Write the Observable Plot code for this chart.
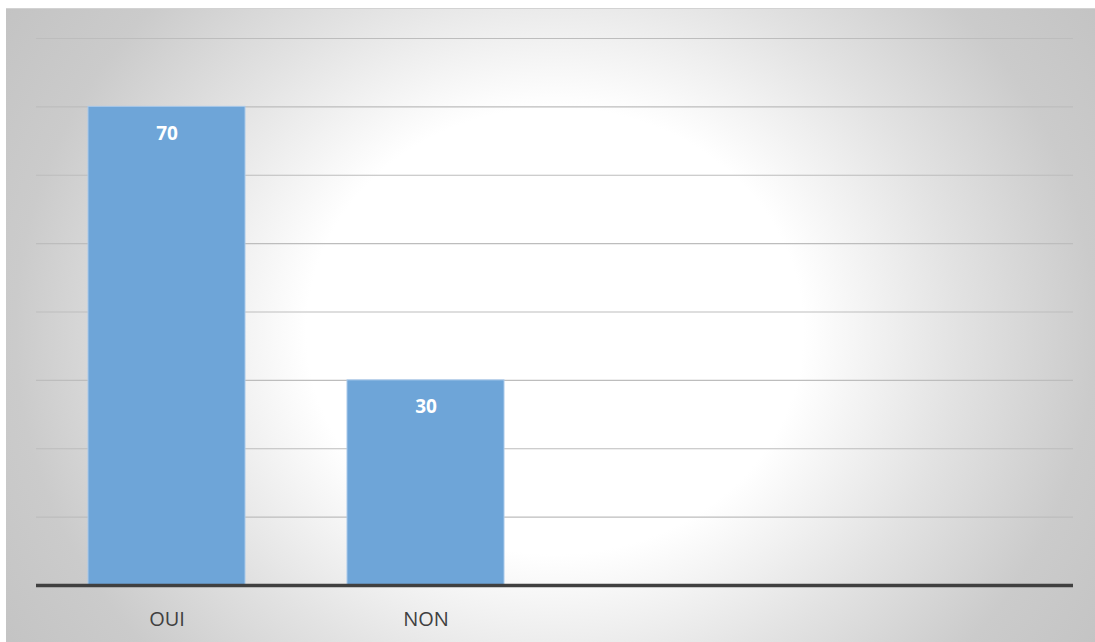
<!DOCTYPE html>
<html>
<head>
<meta charset="utf-8">
<script src="https://cdn.jsdelivr.net/npm/d3@7"></script>
<script src="https://cdn.jsdelivr.net/npm/@observablehq/plot@0.6"></script>
<style>
  html, body { margin: 0; padding: 0; background: #ffffff; }
  #wrap { position: relative; width: 1095px; height: 642px; overflow: hidden; background: #ffffff; }
  #bg {
    position: absolute; left: 6px; top: 8px; right: 0; bottom: 0;
    border-top: 1px solid #d2d2d2;
    background: radial-gradient(540px 485px at 549px 322px, #ffffff 0%, #ffffff 46%, #e2e2e2 75%, #cbcbcb 100%, #c2c2c2 125%);
  }
  #chart { position: absolute; left: 0; top: 0; }
  #chart svg { background: transparent; }
</style>
</head>
<body>
<div id="wrap"><div id="bg"></div><div id="chart"></div></div>
<script>
const categories = ["OUI", "NON", " ", "  "];
const values = [70, 30, null, null];
const tickLabels = ["OUI", "NON", "", ""];
const gridValues = [10, 20, 30, 40, 50, 60, 70, 80];

const data = categories.map((c, i) => ({category: c, value: values[i], label: tickLabels[i]}));
const bars = data.filter(d => d.value != null);

const chart = Plot.plot({
  width: 1095,
  height: 642,
  marginLeft: 36,
  marginRight: 22,
  marginTop: 38,
  marginBottom: 57,
  style: {background: "transparent", fontFamily: "'Open Sans', sans-serif", overflow: "visible"},
  x: {domain: categories, paddingInner: 0.395, paddingOuter: 0.1975, label: null},
  y: {domain: [0, 80], axis: null},
  marks: [
    Plot.ruleY(gridValues, {stroke: "#bdbdbd", strokeWidth: 1.2}),
    Plot.barY(bars, {x: "category", y: "value", fill: "#6ea5d8", stroke: "#a9c9ea", strokeWidth: 1}),
    Plot.text(bars, {x: "category", y: "value", text: d => String(d.value), dy: 27, fill: "#ffffff",
      fontSize: 19, fontWeight: "bold"}),
    Plot.ruleY([0], {stroke: "#404040", strokeWidth: 3.5}),
    Plot.axisX({tickSize: 0, tickPadding: 26, fontSize: 20, color: "#404040", label: null,
      tickFormat: (c) => tickLabels[categories.indexOf(c)]})
  ]
});
document.getElementById("chart").appendChild(chart);
</script>
</body>
</html>
